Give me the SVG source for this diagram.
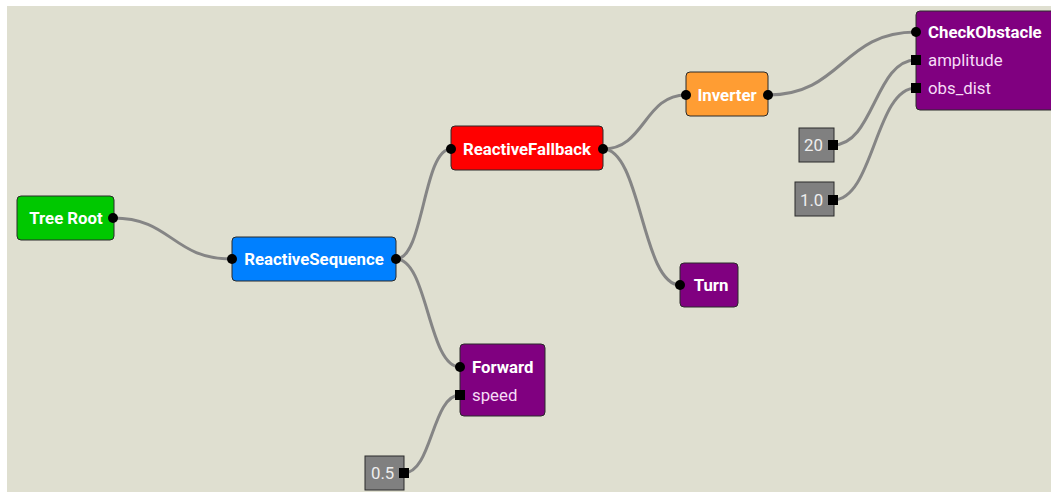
<svg xmlns="http://www.w3.org/2000/svg" width="1051" height="492" viewBox="0 0 1051 492">
  <style>
    .box { stroke: #2a2a2a; stroke-width: 1; }
    .title { font-family: Roboto, "Liberation Sans", sans-serif; font-size: 16.8px; font-weight: bold; fill: #ffffff; }
    .port-label { font-family: Roboto, "Liberation Sans", sans-serif; font-size: 16.8px; fill: #f6dcf6; }
    .value { font-family: Roboto, "Liberation Sans", sans-serif; font-size: 16.8px; fill: #eeeeee; }
    .wire { fill: none; stroke: #858585; stroke-width: 3; }
    .pin { fill: #000000; }
  </style>

  <!-- canvas -->
  <rect x="0" y="0" width="1051" height="492" fill="#ffffff"/>
  <rect x="7" y="6" width="1044" height="486" fill="#dfdfd0"/>

  <!-- connectors -->
  <g id="connectors">
    <path class="wire" d="M113,218 C172,218 172,259 232,259"/>
    <path class="wire" d="M396,259 C424,259 423,149 451,149"/>
    <path class="wire" d="M396,259 C428,259 428,367 460,367"/>
    <path class="wire" d="M603,149 C645,149 644,95 686,95"/>
    <path class="wire" d="M603,149 C641,149 642,285 680,285"/>
    <path class="wire" d="M768,95 C842,95 842,32 916,32"/>
    <path class="wire" d="M833,145 C874,145 875,60 916,60"/>
    <path class="wire" d="M833,200 C874,200 875,88 916,88"/>
    <path class="wire" d="M404,473 C432,473 432,395 460,395"/>
  </g>

  <!-- Tree Root -->
  <g id="node-tree-root">
    <rect class="box" x="17" y="196" width="97" height="44" rx="4" fill="#00c800"/>
    <text class="title" x="66" y="224" text-anchor="middle">Tree Root</text>
    <circle class="pin" cx="113" cy="218" r="5"/>
  </g>

  <!-- ReactiveSequence -->
  <g id="node-reactive-sequence">
    <rect class="box" x="232" y="237" width="164" height="44" rx="4" fill="#0080ff"/>
    <text class="title" x="314" y="265" text-anchor="middle">ReactiveSequence</text>
    <circle class="pin" cx="232" cy="259" r="5"/>
    <circle class="pin" cx="396" cy="259" r="5"/>
  </g>

  <!-- ReactiveFallback -->
  <g id="node-reactive-fallback">
    <rect class="box" x="451" y="126" width="152" height="44" rx="4" fill="#ff0000"/>
    <text class="title" x="527" y="155" text-anchor="middle">ReactiveFallback</text>
    <circle class="pin" cx="451" cy="149" r="5"/>
    <circle class="pin" cx="603" cy="149" r="5"/>
  </g>

  <!-- Inverter -->
  <g id="node-inverter">
    <rect class="box" x="686" y="72" width="82" height="44" rx="4" fill="#ff9d33"/>
    <text class="title" x="727" y="101" text-anchor="middle">Inverter</text>
    <circle class="pin" cx="686" cy="95" r="5"/>
    <circle class="pin" cx="768" cy="95" r="5"/>
  </g>

  <!-- CheckObstacle -->
  <g id="node-check-obstacle">
    <rect class="box" x="916" y="11" width="140" height="99" rx="4" fill="#800080"/>
    <text class="title" x="928" y="38">CheckObstacle</text>
    <text class="port-label" x="928" y="66">amplitude</text>
    <text class="port-label" x="928" y="94">obs_dist</text>
    <circle class="pin" cx="916" cy="32" r="5"/>
    <rect class="pin" x="911" y="55" width="10" height="10"/>
    <rect class="pin" x="911" y="83" width="10" height="10"/>
  </g>

  <!-- Turn -->
  <g id="node-turn">
    <rect class="box" x="680" y="263" width="58" height="44" rx="4" fill="#800080"/>
    <text class="title" x="711" y="291" text-anchor="middle">Turn</text>
    <circle class="pin" cx="680" cy="285" r="5"/>
  </g>

  <!-- Forward -->
  <g id="node-forward">
    <rect class="box" x="460" y="344" width="85" height="72" rx="4" fill="#800080"/>
    <text class="title" x="472" y="373">Forward</text>
    <text class="port-label" x="472" y="401">speed</text>
    <circle class="pin" cx="460" cy="367" r="5"/>
    <rect class="pin" x="455" y="390" width="10" height="10"/>
  </g>

  <!-- constant value: 20 -->
  <g id="value-20">
    <rect class="box" x="799" y="128" width="35" height="34" fill="#808080"/>
    <text class="value" x="804" y="151">20</text>
    <rect class="pin" x="828" y="140" width="10" height="10"/>
  </g>

  <!-- constant value: 1.0 -->
  <g id="value-1-0">
    <rect class="box" x="795" y="182" width="39" height="34" fill="#808080"/>
    <text class="value" x="800" y="206">1.0</text>
    <rect class="pin" x="828" y="195" width="10" height="10"/>
  </g>

  <!-- constant value: 0.5 -->
  <g id="value-0-5">
    <rect class="box" x="365" y="456" width="39" height="34" fill="#808080"/>
    <text class="value" x="371" y="479">0.5</text>
    <rect class="pin" x="399" y="468" width="10" height="10"/>
  </g>
</svg>
